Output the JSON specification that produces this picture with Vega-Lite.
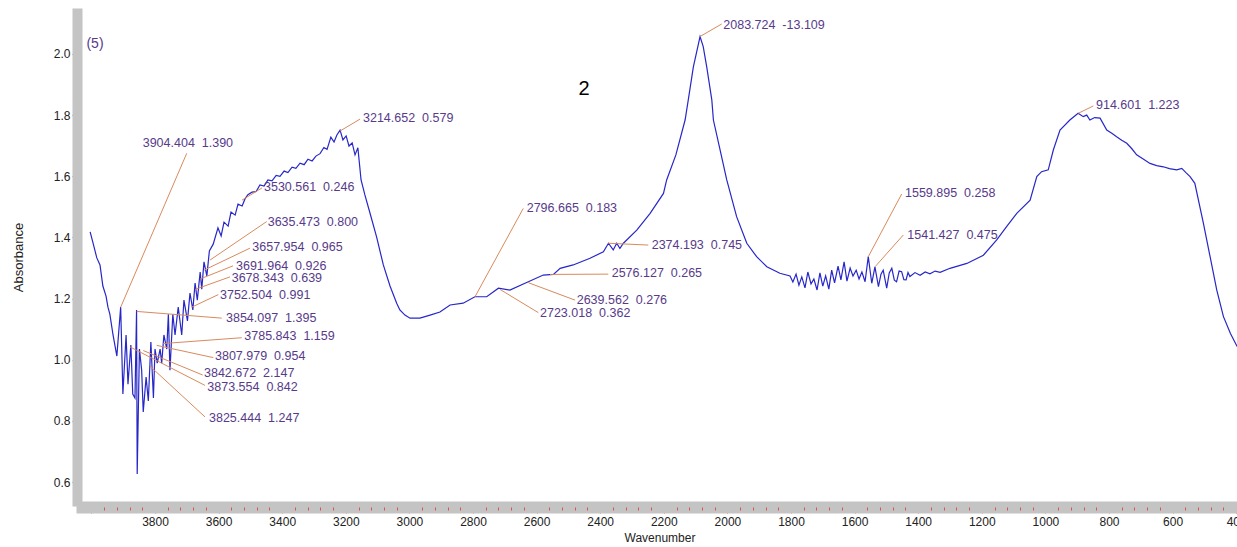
{
  "$schema": "https://vega.github.io/schema/vega-lite/v6.json",
  "autosize": "none",
  "width": 1155,
  "height": 488,
  "padding": {"left": 82, "top": 13, "right": 0, "bottom": 46},
  "background": "white",
  "config": {"view": {"stroke": null}, "font": "Liberation Sans"},
  "datasets": {
    "spectrum": [
      {"w":4004,"a":1.418},{"w":3994,"a":1.378},{"w":3983,"a":1.333},{"w":3973,"a":1.310},{"w":3964,"a":1.241},{"w":3954,"a":1.208},{"w":3948,"a":1.172},{"w":3942,"a":1.149},{"w":3932,"a":1.081},{"w":3920,"a":1.012},{"w":3908,"a":1.172},{"w":3901,"a":0.888},{"w":3891,"a":1.081},{"w":3885,"a":0.920},{"w":3876,"a":1.048},{"w":3870,"a":0.888},{"w":3863,"a":0.875},{"w":3858,"a":1.163},{"w":3856,"a":0.626},{"w":3849,"a":1.035},{"w":3842,"a":0.966},{"w":3837,"a":0.829},{"w":3828,"a":0.943},{"w":3821,"a":0.865},{"w":3813,"a":1.058},{"w":3805,"a":0.875},{"w":3800,"a":1.035},{"w":3793,"a":0.989},{"w":3784,"a":1.035},{"w":3779,"a":0.989},{"w":3772,"a":1.081},{"w":3763,"a":1.035},{"w":3758,"a":1.149},{"w":3753,"a":0.966},{"w":3744,"a":1.149},{"w":3737,"a":1.081},{"w":3727,"a":1.172},{"w":3716,"a":1.081},{"w":3709,"a":1.195},{"w":3698,"a":1.127},{"w":3690,"a":1.218},{"w":3681,"a":1.163},{"w":3674,"a":1.251},{"w":3667,"a":1.195},{"w":3658,"a":1.287},{"w":3653,"a":1.231},{"w":3646,"a":1.320},{"w":3637,"a":1.274},{"w":3629,"a":1.356},{"w":3617,"a":1.378},
      {"w":3602,"a":1.431},{"w":3592,"a":1.405},{"w":3583,"a":1.450},{"w":3570,"a":1.437},{"w":3561,"a":1.483},{"w":3548,"a":1.473},{"w":3539,"a":1.509},{"w":3526,"a":1.503},
      {"w":3517,"a":1.526},{"w":3508,"a":1.540},{"w":3495,"a":1.548},{"w":3482,"a":1.550},{"w":3470,"a":1.572},{"w":3457,"a":1.568},{"w":3445,"a":1.588},{"w":3432,"a":1.585},{"w":3419,"a":1.603},{"w":3407,"a":1.600},{"w":3394,"a":1.617},{"w":3382,"a":1.612},{"w":3369,"a":1.630},{"w":3357,"a":1.626},{"w":3344,"a":1.643},{"w":3331,"a":1.638},{"w":3319,"a":1.656},{"w":3306,"a":1.650},{"w":3294,"a":1.666},{"w":3281,"a":1.674},{"w":3269,"a":1.694},{"w":3259,"a":1.688},{"w":3247,"a":1.728},{"w":3237,"a":1.712},{"w":3228,"a":1.735},{"w":3218,"a":1.751},{"w":3209,"a":1.719},{"w":3199,"a":1.732},{"w":3190,"a":1.699},{"w":3180,"a":1.709},{"w":3171,"a":1.670},{"w":3162,"a":1.693},{"w":3152,"a":1.588},
      {"w":3140,"a":1.539},{"w":3124,"a":1.480},{"w":3103,"a":1.401},{"w":3082,"a":1.310},{"w":3061,"a":1.241},{"w":3040,"a":1.185},{"w":3030,"a":1.163},{"w":3014,"a":1.146},{"w":2998,"a":1.136},{"w":2967,"a":1.136},{"w":2935,"a":1.146},{"w":2904,"a":1.156},{"w":2872,"a":1.179},{"w":2831,"a":1.185},{"w":2794,"a":1.206},{"w":2757,"a":1.206},{"w":2720,"a":1.234},{"w":2684,"a":1.228},{"w":2626,"a":1.255},{"w":2579,"a":1.277},{"w":2547,"a":1.279},{"w":2526,"a":1.299},{"w":2485,"a":1.310},{"w":2432,"a":1.332},{"w":2390,"a":1.353},{"w":2374,"a":1.381},{"w":2359,"a":1.359},{"w":2348,"a":1.381},{"w":2338,"a":1.364},{"w":2327,"a":1.381},{"w":2285,"a":1.424},{"w":2243,"a":1.479},{"w":2201,"a":1.544},{"w":2191,"a":1.588},{"w":2162,"a":1.670},{"w":2133,"a":1.784},{"w":2123,"a":1.850},{"w":2107,"a":1.958},{"w":2086,"a":2.057},{"w":2076,"a":2.024},{"w":2065,"a":1.958},{"w":2049,"a":1.850},{"w":2044,"a":1.784},{"w":2023,"a":1.686},{"w":2002,"a":1.588},{"w":1971,"a":1.468},{"w":1939,"a":1.381},{"w":1908,"a":1.337},{"w":1876,"a":1.304},{"w":1835,"a":1.283},
      {"w":1803,"a":1.274},{"w":1794,"a":1.254},{"w":1784,"a":1.280},{"w":1775,"a":1.244},{"w":1766,"a":1.271},{"w":1756,"a":1.235},{"w":1747,"a":1.287},{"w":1737,"a":1.248},{"w":1728,"a":1.264},{"w":1718,"a":1.228},{"w":1709,"a":1.284},{"w":1700,"a":1.241},{"w":1691,"a":1.274},{"w":1681,"a":1.231},{"w":1672,"a":1.293},{"w":1663,"a":1.251},{"w":1652,"a":1.306},{"w":1643,"a":1.261},{"w":1633,"a":1.320},{"w":1624,"a":1.257},{"w":1614,"a":1.300},{"w":1605,"a":1.274},{"w":1595,"a":1.293},{"w":1586,"a":1.264},{"w":1577,"a":1.287},
      {"w":1567,"a":1.255},{"w":1557,"a":1.337},{"w":1546,"a":1.250},{"w":1536,"a":1.304},{"w":1525,"a":1.239},{"w":1517,"a":1.280},{"w":1510,"a":1.293},{"w":1499,"a":1.234},{"w":1491,"a":1.284},{"w":1483,"a":1.299},{"w":1475,"a":1.260},{"w":1468,"a":1.255},{"w":1460,"a":1.290},{"w":1452,"a":1.288},{"w":1445,"a":1.262},{"w":1438,"a":1.261},{"w":1432,"a":1.285},{"w":1426,"a":1.272},{"w":1410,"a":1.285},{"w":1394,"a":1.276},{"w":1378,"a":1.287},{"w":1363,"a":1.281},{"w":1347,"a":1.290},{"w":1331,"a":1.286},{"w":1300,"a":1.299},{"w":1247,"a":1.315},{"w":1195,"a":1.342},{"w":1153,"a":1.392},{"w":1122,"a":1.435},{"w":1090,"a":1.479},{"w":1048,"a":1.522},{"w":1027,"a":1.599},{"w":1012,"a":1.615},{"w":991,"a":1.621},{"w":975,"a":1.686},{"w":954,"a":1.751},{"w":923,"a":1.784},{"w":897,"a":1.806},{"w":881,"a":1.795},{"w":870,"a":1.800},{"w":860,"a":1.784},{"w":845,"a":1.792},{"w":828,"a":1.790},{"w":807,"a":1.751},{"w":790,"a":1.740},{"w":776,"a":1.729},{"w":760,"a":1.718},{"w":744,"a":1.708},{"w":728,"a":1.690},{"w":713,"a":1.670},{"w":690,"a":1.655},{"w":671,"a":1.642},{"w":650,"a":1.635},{"w":629,"a":1.631},{"w":610,"a":1.625},{"w":587,"a":1.621},{"w":571,"a":1.626},{"w":558,"a":1.612},{"w":545,"a":1.599},{"w":530,"a":1.577},{"w":503,"a":1.446},{"w":482,"a":1.337},{"w":461,"a":1.228},{"w":440,"a":1.141},{"w":418,"a":1.086},{"w":397,"a":1.043}
    ],
    "ann": [
      {"label":"3904.404\u00a0\u00a01.390","tw":3838.7,"ta":1.709,"pw":3907.9,"pa":1.172,"ew":3700.3,"ea":1.675},
      {"label":"3214.652\u00a0\u00a00.579","tw":3145.9,"ta":1.791,"pw":3218.2,"pa":1.748,"ew":3155.3,"ea":1.787},
      {"label":"3530.561\u00a0\u00a00.246","tw":3457.2,"ta":1.566,"pw":3526.4,"pa":1.522,"ew":3463.5,"ea":1.562},
      {"label":"3635.473\u00a0\u00a00.800","tw":3445.6,"ta":1.452,"pw":3627.0,"pa":1.326,"ew":3448.7,"ea":1.452},
      {"label":"3657.954\u00a0\u00a00.965","tw":3494.0,"ta":1.369,"pw":3645.9,"pa":1.293,"ew":3501.3,"ea":1.365},
      {"label":"3691.964\u00a0\u00a00.926","tw":3545.3,"ta":1.307,"pw":3658.5,"pa":1.264,"ew":3554.7,"ea":1.307},
      {"label":"3678.343\u00a0\u00a00.639","tw":3558.8,"ta":1.267,"pw":3674.2,"pa":1.230,"ew":3564.1,"ea":1.271},
      {"label":"3752.504\u00a0\u00a00.991","tw":3595.6,"ta":1.213,"pw":3684.6,"pa":1.172,"ew":3600.9,"ea":1.213},
      {"label":"3854.097\u00a0\u00a01.395","tw":3576.7,"ta":1.138,"pw":3857.5,"pa":1.158,"ew":3590.2,"ea":1.136},
      {"label":"3785.843\u00a0\u00a01.159","tw":3519.2,"ta":1.076,"pw":3773.9,"pa":1.053,"ew":3527.4,"ea":1.072},
      {"label":"3807.979\u00a0\u00a00.954","tw":3611.3,"ta":1.013,"pw":3794.7,"pa":1.047,"ew":3616.7,"ea":1.007},
      {"label":"3842.672\u00a0\u00a02.147","tw":3645.9,"ta":0.956,"pw":3836.8,"pa":1.030,"ew":3650.0,"ea":0.950},
      {"label":"3873.554\u00a0\u00a00.842","tw":3635.5,"ta":0.912,"pw":3878.6,"pa":1.042,"ew":3642.8,"ea":0.916},
      {"label":"3825.444\u00a0\u00a01.247","tw":3630.2,"ta":0.811,"pw":3815.7,"pa":0.979,"ew":3642.8,"ea":0.813},
      {"label":"2796.665\u00a0\u00a00.183","tw":2631.1,"ta":1.495,"pw":2793.7,"pa":1.206,"ew":2641.8,"ea":1.495},
      {"label":"2723.018\u00a0\u00a00.362","tw":2589.3,"ta":1.152,"pw":2715.1,"pa":1.230,"ew":2594.6,"ea":1.154},
      {"label":"2639.562\u00a0\u00a00.276","tw":2473.9,"ta":1.195,"pw":2626.1,"pa":1.252,"ew":2479.2,"ea":1.195},
      {"label":"2576.127\u00a0\u00a00.265","tw":2363.8,"ta":1.283,"pw":2557.8,"pa":1.279,"ew":2374.5,"ea":1.280},
      {"label":"2374.193\u00a0\u00a00.745","tw":2238.1,"ta":1.375,"pw":2374.5,"pa":1.381,"ew":2248.7,"ea":1.375},
      {"label":"2083.724\u00a0\u00a0-13.109","tw":2012.9,"ta":2.095,"pw":2086.1,"pa":2.057,"ew":2017.9,"ea":2.098},
      {"label":"1559.895\u00a0\u00a00.258","tw":1441.5,"ta":1.544,"pw":1556.9,"pa":1.337,"ew":1451.9,"ea":1.542},
      {"label":"1541.427\u00a0\u00a00.475","tw":1434.2,"ta":1.408,"pw":1535.8,"pa":1.304,"ew":1446.8,"ea":1.408},
      {"label":"914.601\u00a0\u00a01.223","tw":840.8,"ta":1.833,"pw":896.5,"pa":1.806,"ew":849.3,"ea":1.830}
    ],
    "notes": [
      {"t":"(5)","nw":3988.7,"na":2.034,"kind":"panel"},
      {"t":"2","nw":2451,"na":1.886,"kind":"num"}
    ]
  },
  "resolve": {"axis": {"x": "independent"}},
  "layer": [
    {
      "data": {"name": "spectrum"},
      "mark": {"type": "line", "color": "#2727c9", "strokeWidth": 1.2, "clip": true},
      "encoding": {
        "x": {"field": "w", "type": "quantitative",
          "scale": {"domain": [4029.6, 397.4], "nice": false, "zero": false},
          "axis": {"title": "Wavenumber", "values": [4000,3800,3600,3400,3200,3000,2800,2600,2400,2200,2000,1800,1600,1400,1200,1000,800,600,400],
            "labelExpr": "datum.value == 4000 ? '' : datum.label", "format": "d",
            "grid": false, "offset": 6, "domainWidth": 12, "domainColor": "#c4c4c4", "domainCap": "square",
            "tickColor": "#d9534f", "tickSize": 6, "tickWidth": 1,
            "labelFont": "Liberation Sans", "labelFontSize": 12, "labelColor": "#222", "labelPadding": 3,
            "labelFlush": false, "labelOverlap": false,
            "titleFont": "Liberation Sans", "titleFontSize": 12, "titleFontWeight": "normal", "titleColor": "#222", "titlePadding": 5}},
        "y": {"field": "a", "type": "quantitative",
          "scale": {"domain": [0.538, 2.134], "nice": false, "zero": false},
          "axis": {"title": "Absorbance", "values": [0.6,0.8,1.0,1.2,1.4,1.6,1.8,2.0], "format": ".1f",
            "grid": false, "offset": 5, "domainWidth": 10, "domainColor": "#c4c4c4", "domainCap": "square",
            "tickColor": "#d9534f", "tickSize": 5, "tickWidth": 1.2,
            "labelFont": "Liberation Sans", "labelFontSize": 12, "labelColor": "#222", "labelPadding": 2,
            "titleFont": "Liberation Sans", "titleFontSize": 13, "titleFontWeight": "normal", "titleColor": "#222", "titlePadding": 28}}
      }
    },
    {
      "data": {"name": "ann"},
      "mark": {"type": "rule", "color": "#d98a5c", "strokeWidth": 1},
      "encoding": {
        "x": {"field": "pw", "type": "quantitative",
          "scale": {"domain": [4029.6, 397.4], "nice": false, "zero": false},
          "axis": {"orient": "bottom", "title": null, "labels": false, "domain": false, "grid": false, "offset": 6,
            "values": [3960,3920,3880,3840,3760,3720,3680,3640,3560,3520,3480,3440,3360,3320,3280,3240,3160,3120,3080,3040,2960,2920,2880,2840,2760,2720,2680,2640,2560,2520,2480,2440,2360,2320,2280,2240,2160,2120,2080,2040,1960,1920,1880,1840,1760,1720,1680,1640,1560,1520,1480,1440,1360,1320,1280,1240,1160,1120,1080,1040,960,920,880,840,760,720,680,640,560,520,480,440],
            "tickColor": "#d9534f", "tickSize": 3, "tickWidth": 1}},
        "y": {"field": "pa", "type": "quantitative"},
        "x2": {"field": "ew"},
        "y2": {"field": "ea"}
      }
    },
    {
      "data": {"name": "ann"},
      "mark": {"type": "text", "align": "left", "baseline": "middle", "font": "Liberation Sans", "fontSize": 12.5, "color": "#573b8a"},
      "encoding": {
        "x": {"field": "tw", "type": "quantitative", "axis": null},
        "y": {"field": "ta", "type": "quantitative"},
        "text": {"field": "label"}
      }
    },
    {
      "data": {"name": "notes"},
      "mark": {"type": "text", "baseline": "middle", "font": "Liberation Sans"},
      "encoding": {
        "x": {"field": "nw", "type": "quantitative", "axis": null},
        "y": {"field": "na", "type": "quantitative"},
        "text": {"field": "t"},
        "align": {"condition": {"test": "datum.kind == 'panel'", "value": "left"}, "value": "center"},
        "size": {"condition": {"test": "datum.kind == 'panel'", "value": 14}, "value": 20},
        "color": {"condition": {"test": "datum.kind == 'panel'", "value": "#573b8a"}, "value": "#000000"}
      }
    }
  ]
}
